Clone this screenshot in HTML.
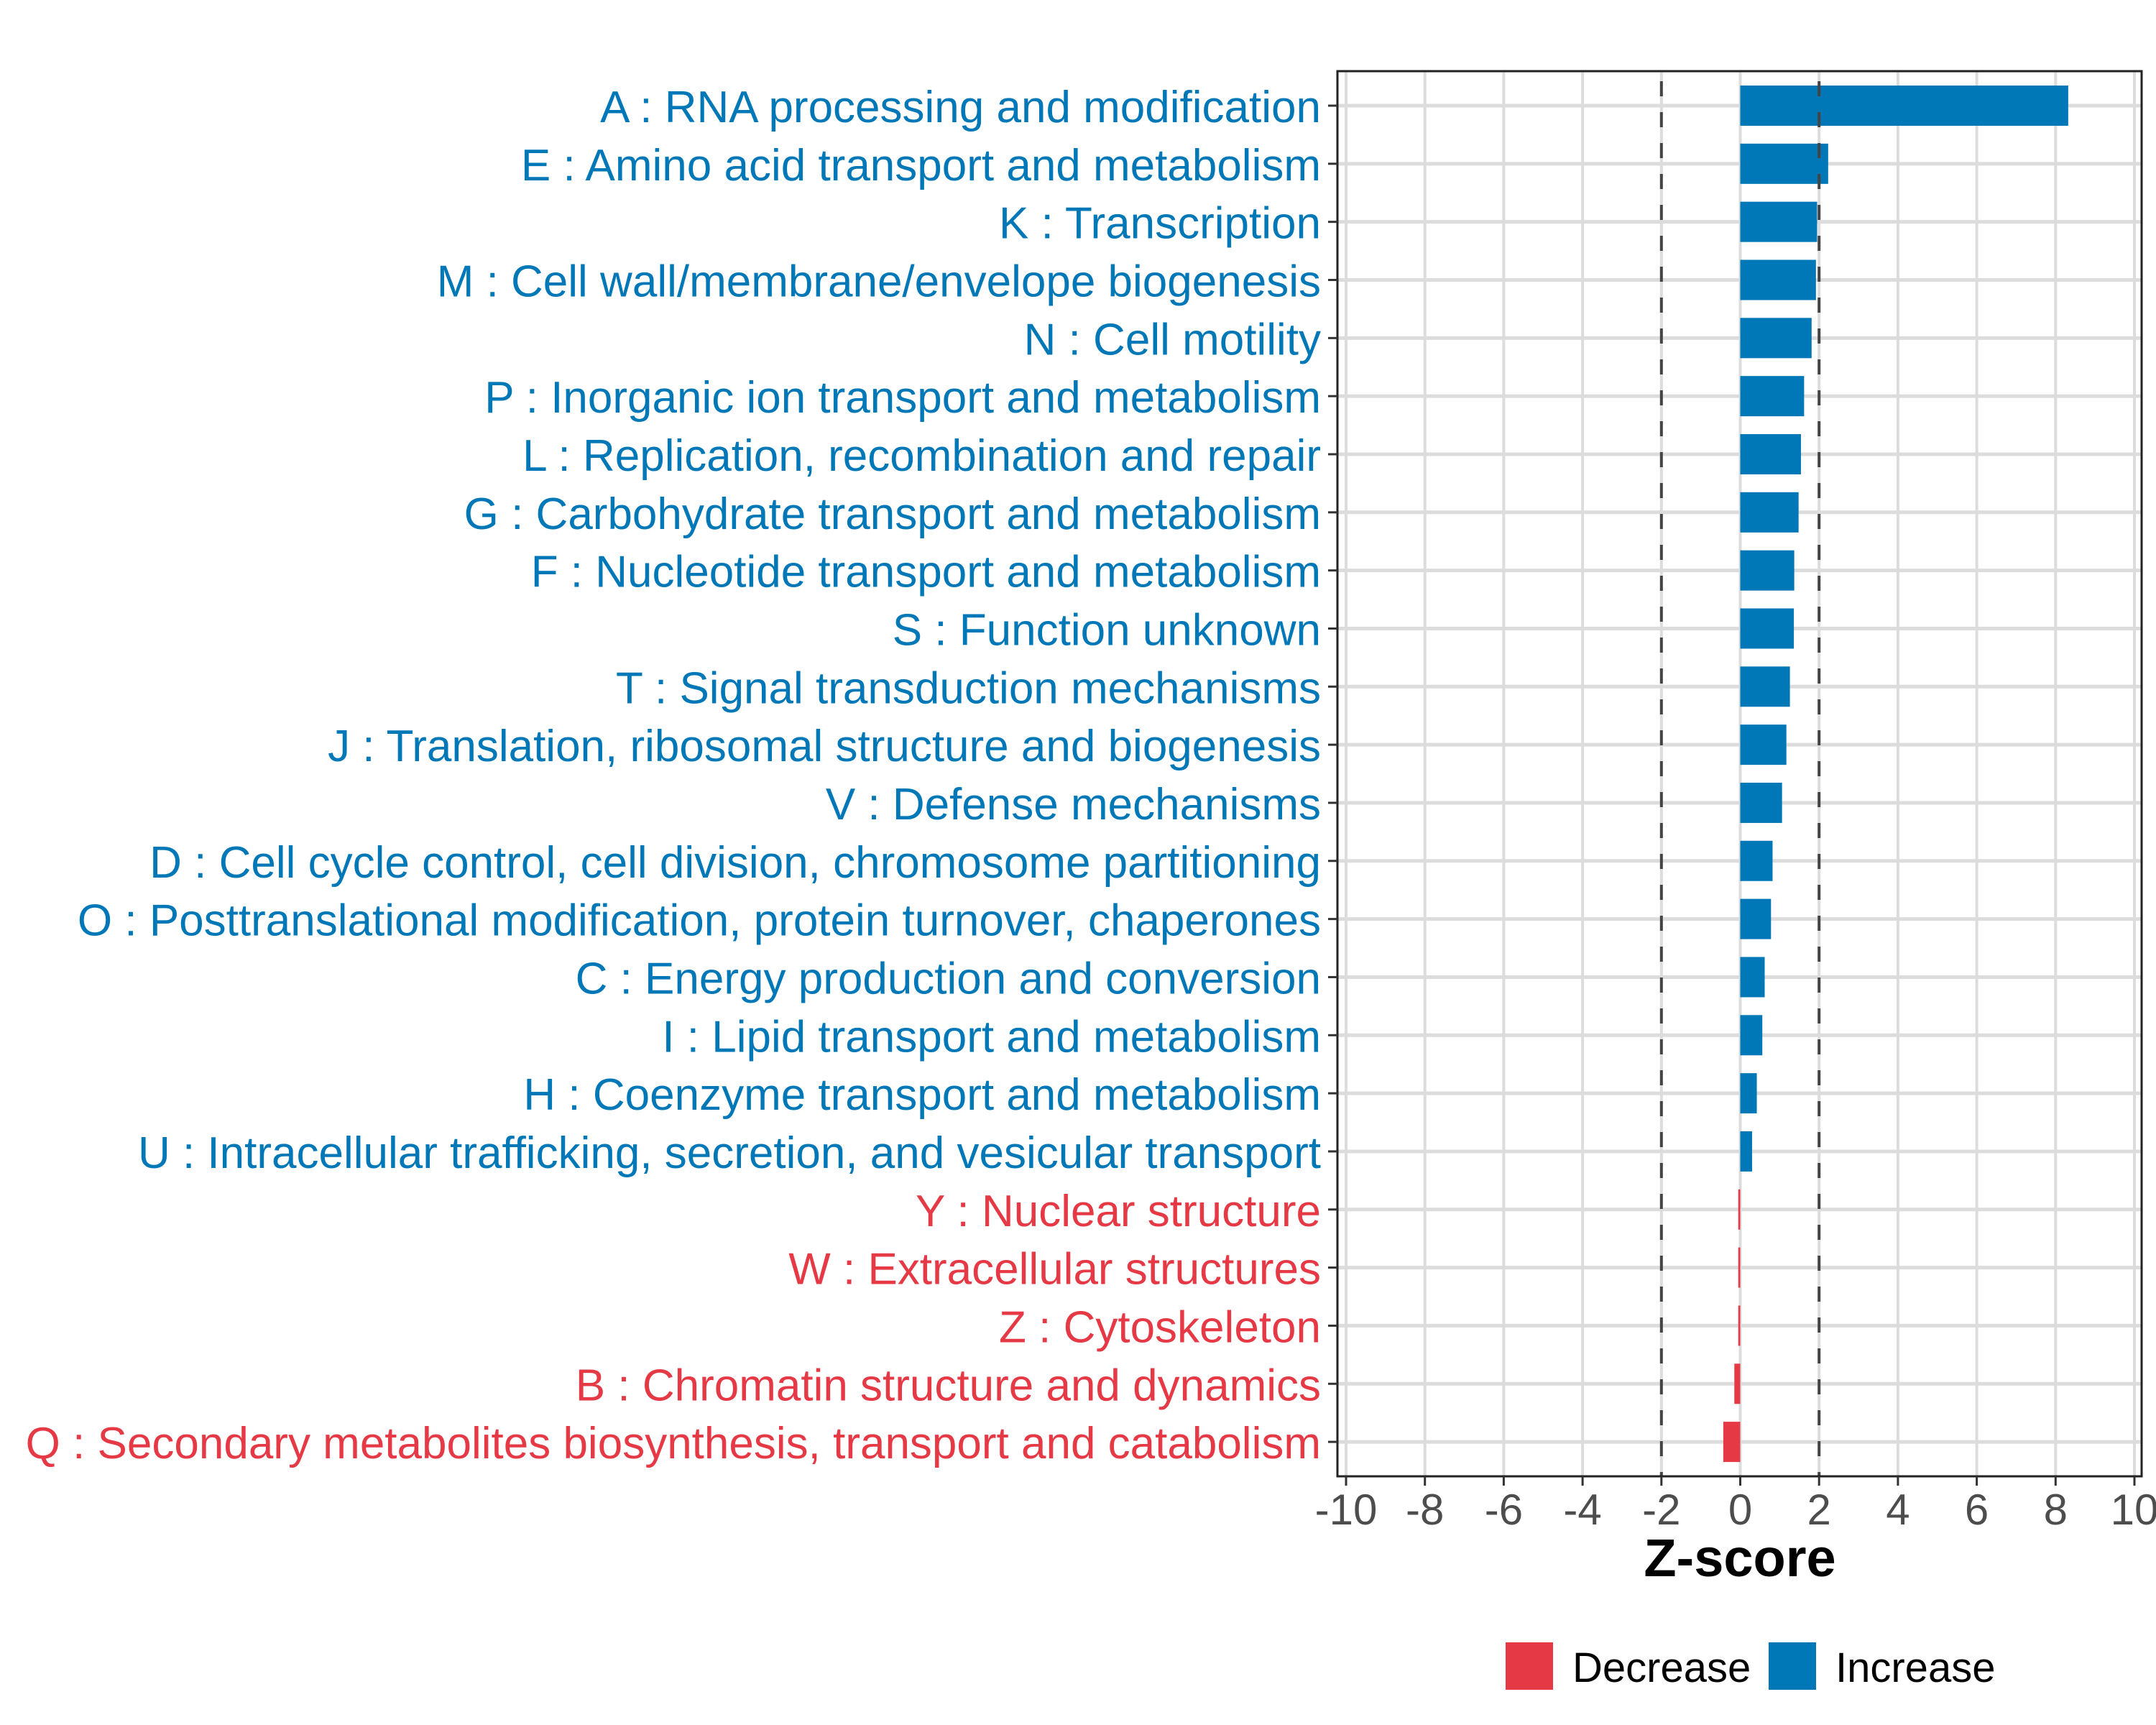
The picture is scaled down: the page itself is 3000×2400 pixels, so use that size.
<!DOCTYPE html>
<html><head><meta charset="utf-8"><style>
html,body{margin:0;padding:0;background:#fff;}
svg{display:block;font-family:"Liberation Sans",Arial,sans-serif;}
</style></head><body>
<svg id="chart" width="3000" height="2400" viewBox="0 0 3000 2400" xmlns="http://www.w3.org/2000/svg">
<rect x="0" y="0" width="3000" height="2400" fill="#fff"/>
<g id="grid"></g>
<g id="bars"></g>
<g id="ref"></g>
<rect x="1861" y="99" width="1119" height="1955" fill="none" stroke="#222" stroke-width="3"/>
<g id="ylabels"></g>
<g id="xaxis"></g>
<text x="2421" y="2193" text-anchor="middle" font-size="74" font-weight="bold" fill="#000">Z-score</text>
<g>
<rect x="2095" y="2285" width="66" height="66" fill="#E63946"/>
<text x="2188" y="2340" font-size="58" fill="#000">Decrease</text>
<rect x="2461" y="2285" width="66" height="66" fill="#0077B6"/>
<text x="2554" y="2340" font-size="58" fill="#000">Increase</text>
</g>
</svg>
<script>
const categories = [
"A : RNA processing and modification",
"E : Amino acid transport and metabolism",
"K : Transcription",
"M : Cell wall/membrane/envelope biogenesis",
"N : Cell motility",
"P : Inorganic ion transport and metabolism",
"L : Replication, recombination and repair",
"G : Carbohydrate transport and metabolism",
"F : Nucleotide transport and metabolism",
"S : Function unknown",
"T : Signal transduction mechanisms",
"J : Translation, ribosomal structure and biogenesis",
"V : Defense mechanisms",
"D : Cell cycle control, cell division, chromosome partitioning",
"O : Posttranslational modification, protein turnover, chaperones",
"C : Energy production and conversion",
"I : Lipid transport and metabolism",
"H : Coenzyme transport and metabolism",
"U : Intracellular trafficking, secretion, and vesicular transport",
"Y : Nuclear structure",
"W : Extracellular structures",
"Z : Cytoskeleton",
"B : Chromatin structure and dynamics",
"Q : Secondary metabolites biosynthesis, transport and catabolism"
];
const zscores = [8.32,2.23,1.95,1.92,1.81,1.62,1.54,1.48,1.37,1.36,1.26,1.17,1.06,0.82,0.78,0.62,0.56,0.42,0.3,-0.05,-0.05,-0.05,-0.15,-0.43];
const xTicks = [-10,-8,-6,-4,-2,0,2,4,6,8,10];
const xTickLabels = ["-10","-8","-6","-4","-2","0","2","4","6","8","10"];
const refLines = [-2,2];

const NS="http://www.w3.org/2000/svg";
const X0=1873, X1=2970, XMIN=-10, XMAX=10;
const xs=v=>X0+(v-XMIN)/(XMAX-XMIN)*(X1-X0);
const Y0=147, STEP=80.83;
const ys=i=>Y0+i*STEP;
const BAR_H=56, PT=99, PB=2054, PL=1861, PR=2980;
const BLUE="#0077B6", RED="#E63946";
function mk(tag,attrs,parent){const e=document.createElementNS(NS,tag);for(const k in attrs)e.setAttribute(k,attrs[k]);parent.appendChild(e);return e;}
const grid=document.getElementById('grid'),bars=document.getElementById('bars'),ref=document.getElementById('ref'),yl=document.getElementById('ylabels'),xa=document.getElementById('xaxis');
xTicks.forEach((t,i)=>{
  const l=mk('line',{x1:xs(t),x2:xs(t),y1:PT,y2:PB,stroke:"#dcdcdc","stroke-width":4},grid);
  
  
  const tk=mk('line',{x1:xs(t),x2:xs(t),y1:PB,y2:PB+13,stroke:"#333","stroke-width":3},xa);
  
  
  const tx=mk('text',{x:xs(t),y:2121,"text-anchor":"middle","font-size":60,fill:"#4d4d4d"},xa);
  tx.textContent=xTickLabels[i];
  
  
});
categories.forEach((c,i)=>{
  const y=ys(i);
  const g=mk('line',{x1:PL,x2:PR,y1:y,y2:y,stroke:"#dcdcdc","stroke-width":5},grid);
  
  
  const v=zscores[i];
  const w=Math.max(Math.abs(xs(v)-xs(0)),2.5);
  const r=mk('rect',{x:v<0?xs(0)-w:xs(0),y:y-BAR_H/2,width:w,height:BAR_H,fill:v<0?RED:BLUE},bars);
  
  
  const tk=mk('line',{x1:PL-13,x2:PL,y1:y,y2:y,stroke:"#333","stroke-width":3},yl);
  
  
  const t=mk('text',{x:1838,y:y+23,"text-anchor":"end","font-size":62,fill:v<0?RED:BLUE},yl);
  t.textContent=c;
  
  
});
refLines.forEach(v=>{
  const l=mk('line',{x1:xs(v),x2:xs(v),y1:PT+14,y2:PB,stroke:"#444","stroke-width":4,"stroke-dasharray":"21 22"},ref);
  
  
});
</script>
</body></html>
